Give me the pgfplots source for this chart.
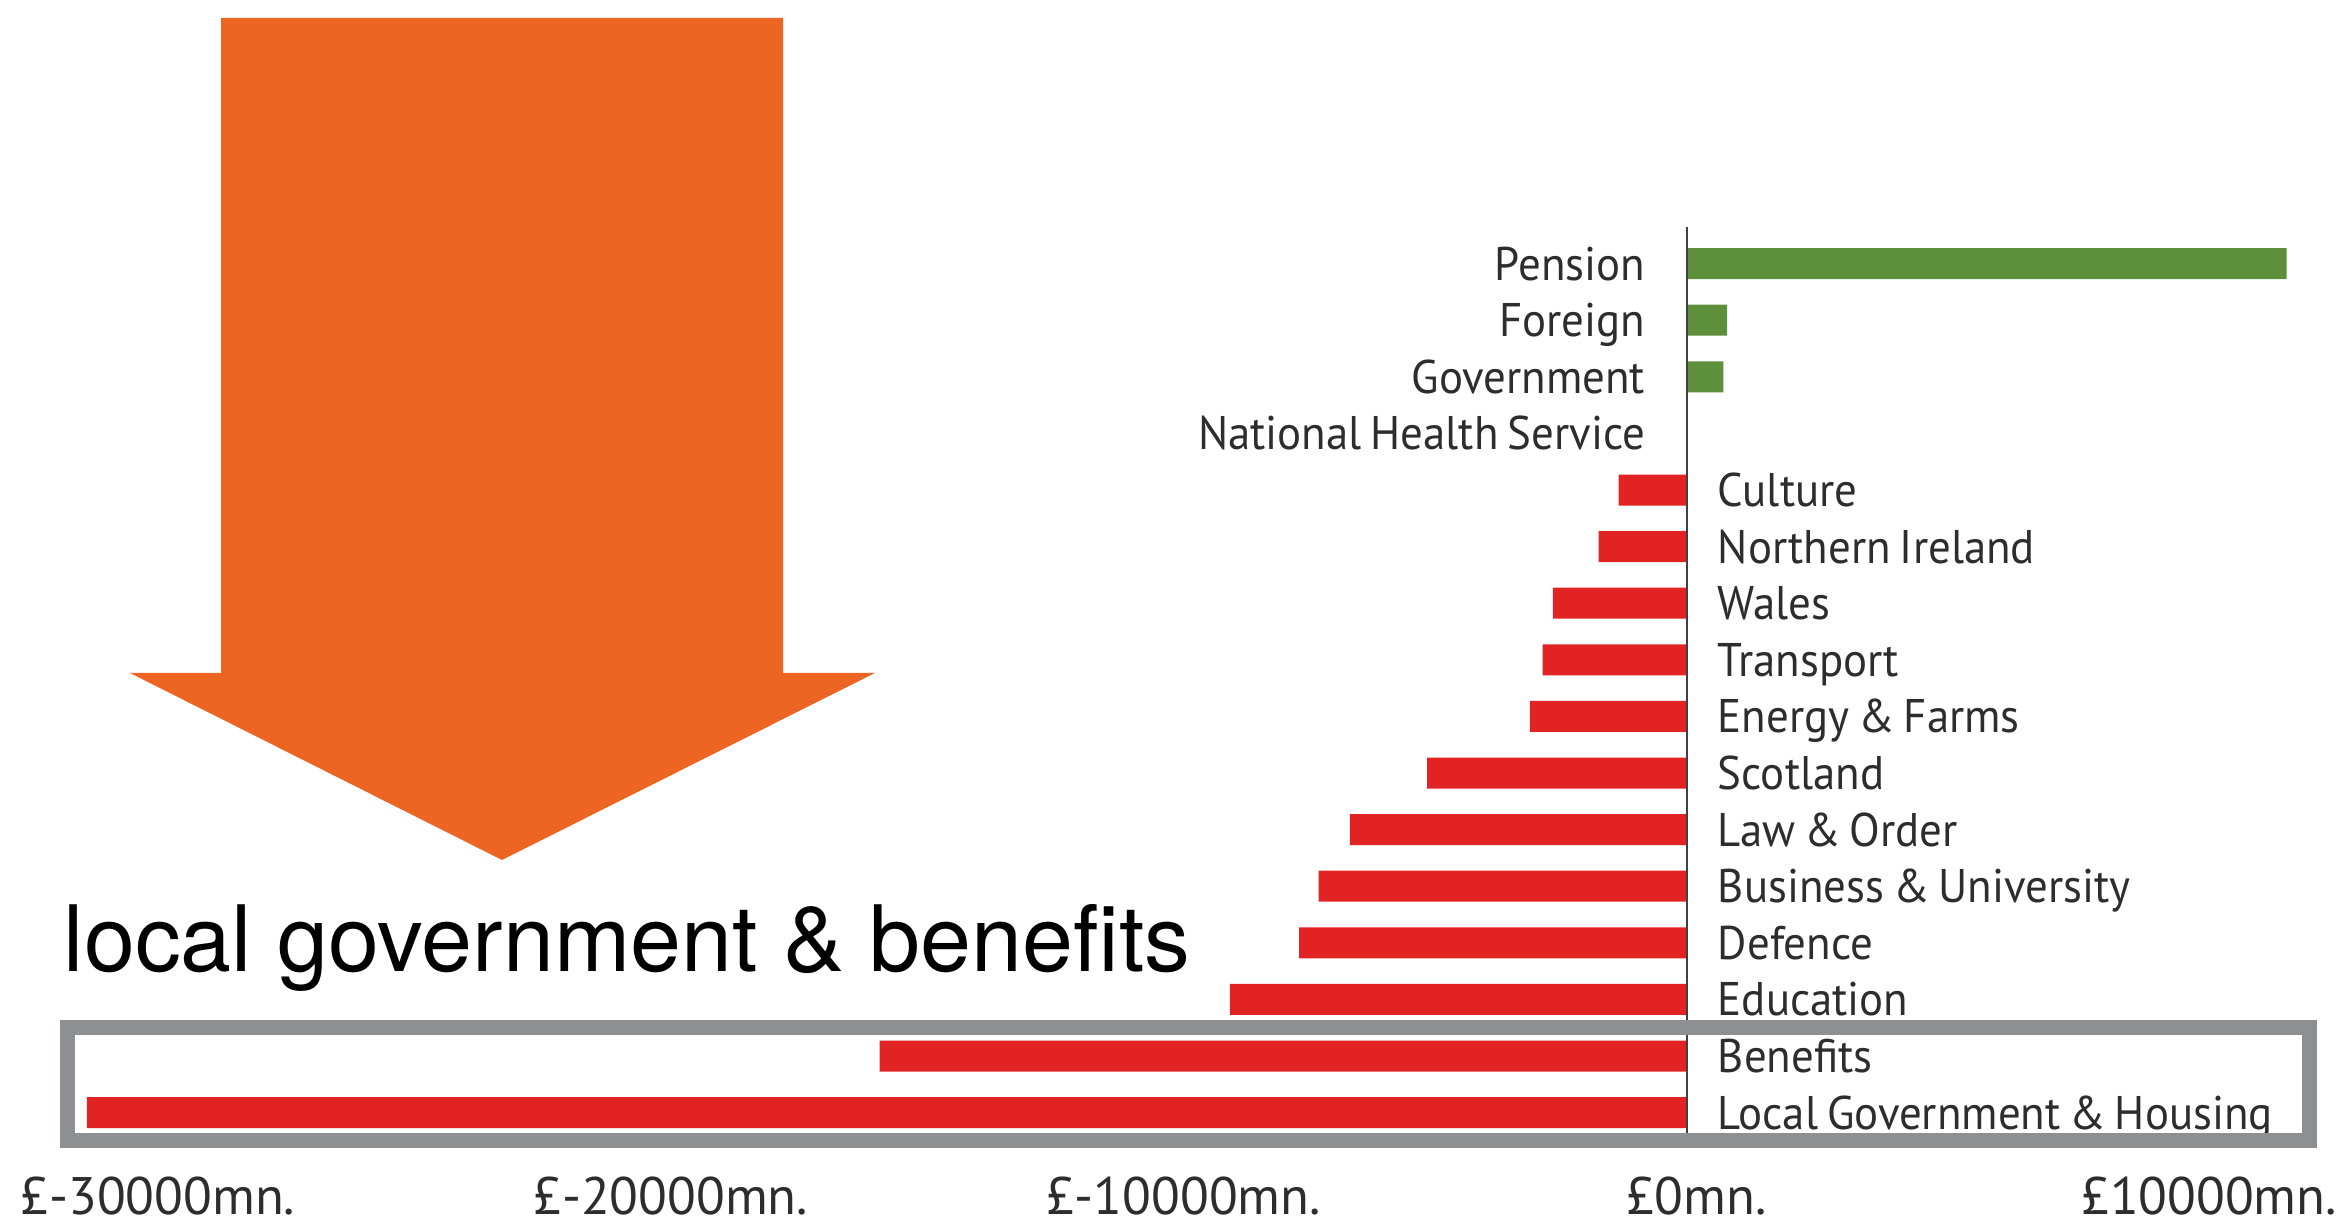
\documentclass[border=0pt]{standalone}
\usepackage{pgfplots}
\pgfplotsset{compat=1.18}
\usepackage{fontspec}
\setmainfont{PT Sans}
\newfontfamily\catfam[FakeStretch=0.95, WordSpace=0.75]{PT Sans}
\newfontfamily\heros{TeX Gyre Heros}
\definecolor{barred}{RGB}{226,35,35}
\definecolor{bargreen}{RGB}{94,143,59}
\definecolor{arroworange}{RGB}{236,101,35}
\definecolor{boxgray}{RGB}{142,143,147}
\definecolor{txt}{RGB}{45,45,45}
\newcommand{\catfont}{\catfam\fontsize{11.8}{14}\selectfont}
\newcommand{\tickfont}{\fontsize{13.2}{15}\selectfont}
\begin{document}
\begin{tikzpicture}
\begin{axis}[
  at={(0,0)}, anchor=south west,
  scale only axis,
  width=586pt, height=226.4pt,
  xmin=-32892, xmax=12818,
  ymin=-0.36, ymax=15.64,
  axis line style={draw=none},
  major tick length=0pt,
  ytick=\empty,
  xtick={-30000,-20000,-10000,0,10000},
  xticklabels={£-30000mn.,£-20000mn.,£-10000mn.,£0mn.,£10000mn.},
  xticklabel style={font=\tickfont, text=txt, anchor=base, yshift=-20.3pt, xshift=2.4pt, inner sep=0pt},
  clip=false,
]
% negative (red) bars
\addplot[xbar, bar width=7.75pt, bar shift=0pt, fill=barred, draw=none] coordinates {
  (-31200,0) (-15740,1) (-8910,2) (-7560,3) (-7180,4) (-6570,5) (-5060,6)
  (-3060,7) (-2810,8) (-2610,9) (-1720,10) (-1330,11)
};
% positive (green) bars
\addplot[xbar, bar width=7.75pt, bar shift=0pt, fill=bargreen, draw=none] coordinates {
  (0,12) (716,13) (790,14) (11700,15)
};
% zero line
\addplot[draw=black!75, line width=0.5pt] coordinates {(0,-0.36) (0,15.64)};
% category labels
\begin{scope}[every node/.style={font=\catfont, text=txt, inner sep=0pt}]
\node[anchor=base west] at (axis cs:0,0) [xshift=7.6pt, yshift=-4.1pt] {Local Government \& Housing};
\node[anchor=base west] at (axis cs:0,1) [xshift=7.6pt, yshift=-4.1pt] {Benefits};
\node[anchor=base west] at (axis cs:0,2) [xshift=7.6pt, yshift=-4.1pt] {Education};
\node[anchor=base west] at (axis cs:0,3) [xshift=7.6pt, yshift=-4.1pt] {Defence};
\node[anchor=base west] at (axis cs:0,4) [xshift=7.6pt, yshift=-4.1pt] {Business \& University};
\node[anchor=base west] at (axis cs:0,5) [xshift=7.6pt, yshift=-4.1pt] {Law \& Order};
\node[anchor=base west] at (axis cs:0,6) [xshift=7.6pt, yshift=-4.1pt] {Scotland};
\node[anchor=base west] at (axis cs:0,7) [xshift=7.6pt, yshift=-4.1pt] {Energy \& Farms};
\node[anchor=base west] at (axis cs:0,8) [xshift=7.6pt, yshift=-4.1pt] {Transport};
\node[anchor=base west] at (axis cs:0,9) [xshift=7.6pt, yshift=-4.1pt] {Wales};
\node[anchor=base west] at (axis cs:0,10) [xshift=7.6pt, yshift=-4.1pt] {Northern Ireland};
\node[anchor=base west] at (axis cs:0,11) [xshift=7.6pt, yshift=-4.1pt] {Culture};
\node[anchor=base east] at (axis cs:0,12) [xshift=-10.2pt, yshift=-4.1pt] {National Health Service};
\node[anchor=base east] at (axis cs:0,13) [xshift=-10.2pt, yshift=-4.1pt] {Government};
\node[anchor=base east] at (axis cs:0,14) [xshift=-10.2pt, yshift=-4.1pt] {Foreign};
\node[anchor=base east] at (axis cs:0,15) [xshift=-10.2pt, yshift=-4.1pt] {Pension};
\end{scope}
\end{axis}
% decorations in reference pixel units
\begin{scope}[shift={(0pt,283.25pt)}, x=0.25pt, y=-0.25pt]
  \fill[arroworange] (221,18) -- (783,18) -- (783,673) -- (875,673) -- (502,860) -- (130,673) -- (221,673) -- cycle;
  \draw[boxgray, line width=3.75pt] (67,1028) rectangle (2309,1141);
  \node[anchor=base west, inner sep=0pt, font=\heros\fontsize{22.9}{26}\selectfont] at (63,972) {local government \& benefits};
\end{scope}
\pgfresetboundingbox
\path (0pt,-23.5pt) rectangle (586pt,283.25pt);
\end{tikzpicture}
\end{document}
